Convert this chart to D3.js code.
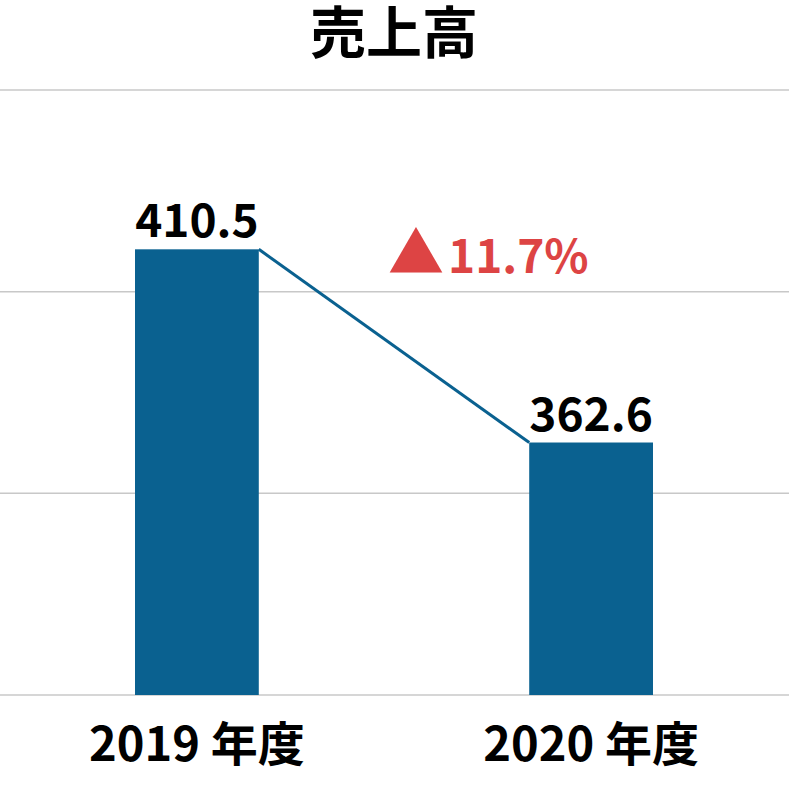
<!DOCTYPE html>
<html><head><meta charset="utf-8">
<script src="https://cdn.jsdelivr.net/npm/d3@7"></script>
<style>body{margin:0;background:#fff}svg{display:block}text{font-family:"Noto Sans CJK JP","Noto Sans",sans-serif;font-weight:700}</style>
</head><body>
<svg id="c" width="789" height="810"></svg>
<script>
const title = "売上高";
const categories = ["2019 年度", "2020 年度"];
const values = [410.5, 362.6];
const valueLabels = ["410.5", "362.6"];
const changeMark = "▲";
const changeLabel = "11.7%";
const yTicks = [300, 350, 400, 450];

const svg = d3.select("#c");
const W = 789;
const x = d3.scaleBand().domain(categories).range([135, 653]).paddingInner(0.686).paddingOuter(0);
const y = d3.scaleLinear().domain([300, 450]).range([695, 90]);

svg.append("text").attr("x", 394).attr("y", 53).attr("text-anchor", "middle")
  .attr("font-size", 56).attr("fill", "#000").text(title);

svg.append("g").selectAll("line").data(yTicks).join("line")
  .attr("x1", 0).attr("x2", W).attr("y1", d => y(d)).attr("y2", d => y(d))
  .attr("stroke", "#c8c8c8").attr("stroke-width", 1.5);

svg.append("g").selectAll("rect").data(values).join("rect")
  .attr("x", (d,i) => x(categories[i])).attr("width", x.bandwidth())
  .attr("y", d => y(d)).attr("height", d => y(300) - y(d))
  .attr("fill", "#0a6190");

svg.append("line")
  .attr("x1", x(categories[0]) + x.bandwidth()).attr("y1", y(values[0]))
  .attr("x2", x(categories[1])).attr("y2", y(values[1]))
  .attr("stroke", "#0a6190").attr("stroke-width", 3);

svg.append("g").selectAll("text").data(values).join("text")
  .attr("x", (d,i) => x(categories[i]) + x.bandwidth()/2).attr("y", d => y(d) - 12)
  .attr("text-anchor", "middle").attr("font-size", 46).attr("fill", "#000")
  .text((d,i) => valueLabels[i]);

const ct = svg.append("text").attr("x", 388).attr("y", 273).attr("fill", "#dd4444");
ct.append("tspan").attr("font-size", 56).text(changeMark);
ct.append("tspan").attr("font-size", 46).attr("dx", 4).text(changeLabel);

svg.append("g").selectAll("text").data(categories).join("text")
  .attr("x", d => x(d) + x.bandwidth()/2).attr("y", 761)
  .attr("text-anchor", "middle").attr("font-size", 47).attr("fill", "#000")
  .text(d => d);
</script>
</body></html>
